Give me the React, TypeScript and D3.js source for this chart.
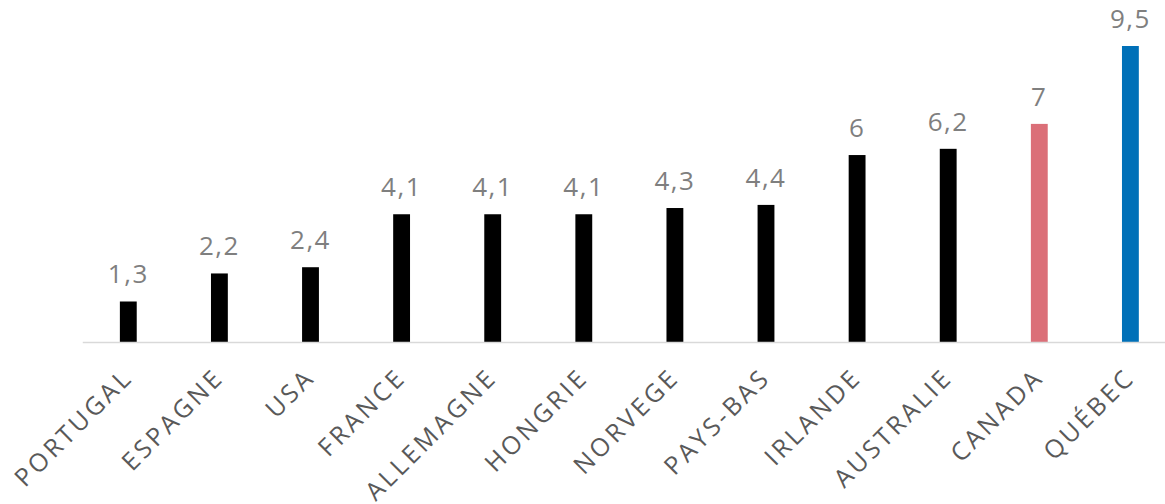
import React from "react";
import * as d3 from "d3";

const categories = ["PORTUGAL", "ESPAGNE", "USA", "FRANCE", "ALLEMAGNE", "HONGRIE", "NORVEGE", "PAYS-BAS", "IRLANDE", "AUSTRALIE", "CANADA", "QUÉBEC"];
const values = [1.3, 2.2, 2.4, 4.1, 4.1, 4.1, 4.3, 4.4, 6, 6.2, 7, 9.5];
const barColors = ["#000000", "#000000", "#000000", "#000000", "#000000", "#000000", "#000000", "#000000", "#000000", "#000000", "#db6f78", "#0070b8"];

const W = 1165;
const H = 504;
const baseline = 342;
const left = 82.75;
const step = 91.1;

export default function App() {
  const x = d3
    .scaleBand<string>()
    .domain(categories)
    .range([left, left + step * categories.length])
    .paddingInner(0.815)
    .paddingOuter(0.4075);
  const y = d3.scaleLinear().domain([0, 9.5]).range([baseline, 46]);
  const fmt = (v: number) => String(v).replace(".", ",");

  return (
    <svg width={W} height={H} style={{ position: "absolute", left: 0, top: 0 }}>
      <rect width={W} height={H} fill="#ffffff" />
      {categories.map((c, i) => {
        const bx = x(c)!;
        const cx = bx + x.bandwidth() / 2;
        return (
          <g key={c}>
            <rect x={bx} y={y(values[i])} width={x.bandwidth()} height={baseline - y(values[i])} fill={barColors[i]} />
            <text
              x={cx}
              y={y(values[i]) - 18}
              textAnchor="middle"
              fontFamily="'Open Sans', sans-serif"
              fontSize={26}
              letterSpacing={1.5}
              fill="#7f7f7f"
            >
              {fmt(values[i])}
            </text>
            <text
              transform={`translate(${cx + 6},${baseline + 37}) rotate(-45)`}
              textAnchor="end"
              fontFamily="'Open Sans', sans-serif"
              fontSize={25}
              letterSpacing={3.2}
              fill="#595959"
            >
              {c}
            </text>
          </g>
        );
      })}
      <line x1={left} x2={W} y1={baseline + 0.5} y2={baseline + 0.5} stroke="#d9d9d9" strokeWidth={1.5} />
    </svg>
  );
}
